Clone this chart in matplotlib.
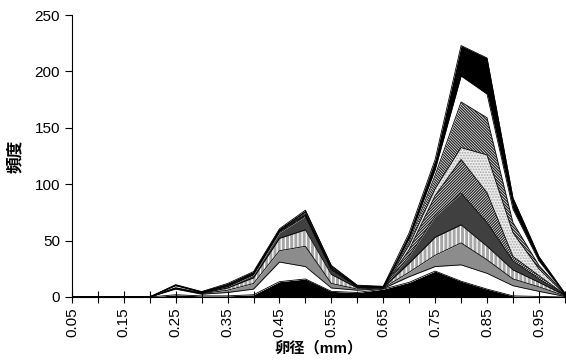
import numpy as np
import matplotlib
matplotlib.use("Agg")
import matplotlib.pyplot as plt

plt.rcParams['font.family'] = ['Liberation Sans', 'Noto Sans CJK JP', 'DejaVu Sans']
plt.rcParams['hatch.linewidth'] = 0.9

# egg diameter classes (mm)
diam = [0.05, 0.10, 0.15, 0.20, 0.25, 0.30, 0.35, 0.40, 0.45, 0.50,
        0.55, 0.60, 0.65, 0.70, 0.75, 0.80, 0.85, 0.90, 0.95, 1.00]

# frequency per group, stacked bottom -> top
g1 = [0, 0, 0, 0, 2, 1, 1, 2, 13.6, 16, 5, 4, 7, 13, 23, 14, 7, 1, 0.5, 0]
g2 = [0, 0, 0, 0, 5, 1.5, 3, 5, 17.4, 11, 3, 2, 0.5, 5, 4, 14.5, 14, 9, 4.5, 0.5]
g3 = [0, 0, 0, 0, 0.3, 0.5, 2, 5, 10, 18, 4, 1, 0.5, 4, 10, 19.5, 12, 6, 4, 0.5]
g4 = [0, 0, 0, 0, 0.3, 0.3, 2, 5, 11, 14.6, 8, 1, 0.3, 8, 16, 16, 12, 8, 4, 0.5]
g5 = [0, 0, 0, 0, 0.3, 0.2, 1, 2.5, 5, 11.9, 4, 0.5, 0.2, 6, 18.5, 28, 21, 8, 3, 0.5]
g6 = [0, 0, 0, 0, 0.3, 0.2, 0.5, 0.5, 1, 1, 1, 0.5, 0.2, 6, 18.5, 30, 26.5, 4, 3, 0.2]
g7 = [0, 0, 0, 0, 1.8, 0.5, 0.5, 0.5, 0.5, 0.5, 0.5, 0.3, 0.1, 4, 6, 10.5, 33.5, 21, 6, 0.3]
g8 = [0, 0, 0, 0, 0.3, 0.2, 0.5, 0.5, 0.5, 1, 0.5, 0.3, 0.1, 3, 12, 40.5, 33, 9, 3, 0.3]
g9 = [0, 0, 0, 0, 0.2, 0.1, 0.5, 0.5, 0.5, 1.5, 1, 0.4, 0.1, 3, 5, 23, 21, 12, 4, 0.2]
g10 = [0, 0, 0, 0, 0.5, 0.3, 1, 1, 1, 1.5, 1, 0.5, 0.5, 5, 9, 27, 32, 10, 4, 0.5]

groups = [g1, g2, g3, g4, g5, g6, g7, g8, g9, g10]

# (face, hatch, hatch colour)
styles = [
    ('black', None, 'black'),
    ('white', None, 'white'),
    ('#8c8c8c', None, '#8c8c8c'),
    ('#a6a6a6', '||||', 'white'),
    ('#404040', None, '#404040'),
    ('white', '/' * 12, '#202020'),
    ('#eeeeee', '.' * 6, '#a8a8a8'),
    ('white', '\\' * 12, '#202020'),
    ('white', None, 'white'),
    ('black', None, 'black'),
]

x = np.array(diam)
fig = plt.figure(figsize=(5.66, 3.6), dpi=100)
ax = fig.add_axes([0.127, 0.175, 0.871, 0.783])

base = np.zeros(len(x))
for vals, (fc, hatch, hc) in zip(groups, styles):
    top = base + np.array(vals)
    ax.fill_between(x, base, top, facecolor=fc, edgecolor=hc, hatch=hatch,
                    linewidth=0)
    ax.plot(x, top, color='black', lw=0.6)
    base = top

ax.set_xlim(0.05, 1.00)
ax.set_ylim(0, 250)
ax.set_yticks(np.arange(0, 251, 50))
ax.set_xticks(x)
ax.set_xticklabels([f"{v:.2f}" if i % 2 == 0 else "" for i, v in enumerate(diam)],
                   rotation=90, fontsize=11)
ax.tick_params(axis='y', labelsize=11, direction='out', length=5)
ax.tick_params(axis='x', direction='inout', length=8)
for s in ['top', 'right']:
    ax.spines[s].set_visible(False)

ax.set_ylabel('頻度', fontsize=12, fontweight='bold', labelpad=8)
ax.set_xlabel('卵径（mm）', fontsize=11, fontweight='bold', labelpad=3)

plt.savefig("out.png", dpi=100)
